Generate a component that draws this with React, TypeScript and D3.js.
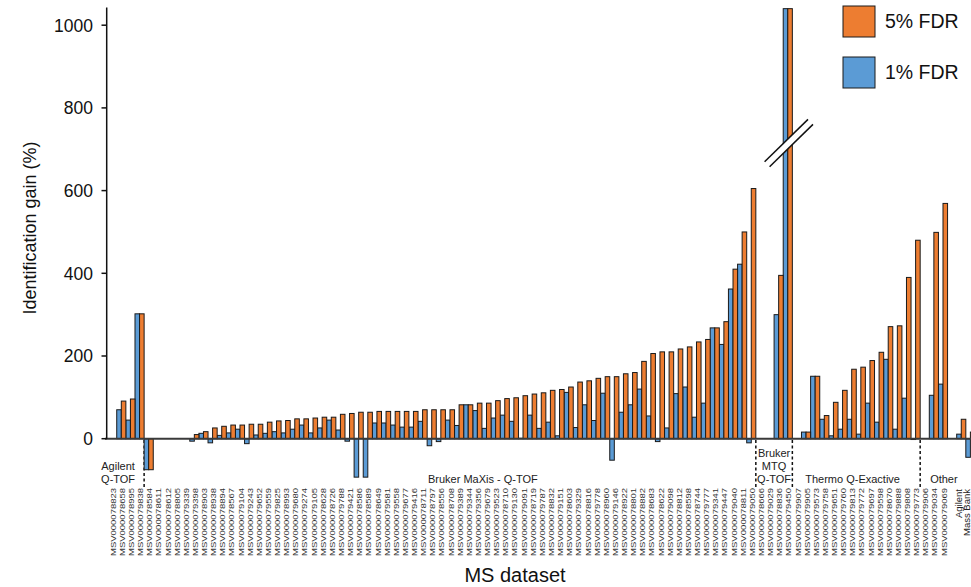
import React from 'react'
import * as d3 from 'd3'

// dataset ids, in plot order (slots)
const datasets = [
  'MSV000078823', 'MSV000078658', 'MSV000078995', 'MSV000079838',
  'MSV000078584', 'MSV000078611', 'MSV000078612', 'MSV000078805', 'MSV000079339', 'MSV000079398',
  'MSV000078903', 'MSV000078938', 'MSV000078894', 'MSV000078567', 'MSV000079104', 'MSV000079243',
  'MSV000079652', 'MSV000079559', 'MSV000079825', 'MSV000078993', 'MSV000079680', 'MSV000079274',
  'MSV000079105', 'MSV000078628', 'MSV000078726', 'MSV000079788', 'MSV000079421', 'MSV000078586',
  'MSV000078589', 'MSV000078649', 'MSV000079581', 'MSV000079558', 'MSV000079677', 'MSV000079416',
  'MSV000078711', 'MSV000078797', 'MSV000078556', 'MSV000078708', 'MSV000079389', 'MSV000079344',
  'MSV000079356', 'MSV000079679', 'MSV000079523', 'MSV000078710', 'MSV000079130', 'MSV000079091',
  'MSV000078719', 'MSV000079787', 'MSV000078832', 'MSV000079151', 'MSV000078603', 'MSV000079329',
  'MSV000078816', 'MSV000079778', 'MSV000078960', 'MSV000079146', 'MSV000078922', 'MSV000078801',
  'MSV000078882', 'MSV000078683', 'MSV000078622', 'MSV000079098', 'MSV000078812', 'MSV000078598',
  'MSV000078744', 'MSV000079777', 'MSV000079341', 'MSV000079447', 'MSV000079040', 'MSV000078811',
  'MSV000079050',
  'MSV000078666', 'MSV000079029', 'MSV000078836', 'MSV000079450',
  'MSV000079907', 'MSV000079905', 'MSV000079573', 'MSV000079758', 'MSV000079651', 'MSV000079760',
  'MSV000079813', 'MSV000079772', 'MSV000079697', 'MSV000079598', 'MSV000078670', 'MSV000079888',
  'MSV000079808', 'MSV000079773',
  'MSV000079906', 'MSV000079034', 'MSV000079069',
  '', '', '',
]

// identification gain (%) at 1% FDR, null = no bar
const fdr1 = [
  null, 70, 45, 302,
  -75, null, null, null, null, -6,
  13, -10, 8, 14, 23, -12,
  9, 13, 17, 14, 23, 33,
  14, 26, 45, 21, -6, -93,
  -93, 38, 38, 33, 28, 28,
  42, -17, -7, 45, 32, 82,
  68, 25, 50, 57, 42, 1,
  57, 25, 40, 7, 112, 27,
  82, 44, 110, -52, 64, 82,
  120, 55, -7, 26, 109, 125,
  52, 86, 268, 228, 362, 422,
  -10,
  null, null, 300, 1040,
  null, 16, 151, 47, 7, 23,
  47, 11, 86, 40, 192, 23,
  98, -2,
  null, 105, 132,
  null, 11, -45,
]

// identification gain (%) at 5% FDR
const fdr5 = [
  null, 91, 96, 302,
  -75, null, null, null, null, 10,
  17, 26, 30, 33, 33, 35,
  35, 40, 43, 44, 48, 48,
  50, 52, 52, 59, 61, 64,
  64, 66, 66, 66, 66, 66,
  70, 70, 70, 70, 82, 82,
  86, 86, 92, 97, 99, 104,
  108, 111, 117, 119, 125, 137,
  140, 146, 150, 150, 157, 160,
  187, 206, 210, 210, 217, 222,
  234, 240, 268, 283, 410, 500,
  605,
  null, null, 395, 1040,
  null, 16, 151, 56, 88, 117,
  168, 173, 189, 209, 271, 273,
  390, 480,
  null, 499, 569,
  null, 47, 16,
]

const groups = [
  { lines: ['Agilent', 'Q-TOF'], first: 0, last: 3 },
  { lines: ['Bruker MaXis - Q-TOF'], first: 4, last: 70 },
  { lines: ['Bruker', 'MTQ', 'Q-TOF'], first: 71, last: 74 },
  { lines: ['Thermo Q-Exactive'], first: 75, last: 88 },
  { lines: ['Other'], first: 89, last: 91 },
]
const massBank = ['Agilent', 'Mass Bank']

const yTicks = [0, 200, 400, 600, 800, 1000]
const series = [
  { name: '5% FDR', color: '#ED7D31' },
  { name: '1% FDR', color: '#5B9BD5' },
]

// where the group captions sit (slot units)
const captionAt = [1.15, 41.1, 73.0, 81.6, 91.6]

const W = 971
const H = 587
const FONT = '"Liberation Sans", Arial, Helvetica, sans-serif'

export default function App() {
  const x = d3.scaleBand<number>()
    .domain(d3.range(datasets.length))
    .range([107.6, 107.6 + 9.13 * datasets.length])
    .padding(0)
  const bw = x.bandwidth()
  const y = d3.scaleLinear().domain([0, 1000]).range([438.7, 25.2])
  const y0 = y(0)
  const slotX = (s: number) => x.range()[0] + s * x.step()

  const bar = (v: number | null, i: number, k: number, color: string) => {
    if (v === null) return null
    const yv = y(v)
    return (
      <rect key={`${k}-${i}`} x={x(i)! + k * bw / 2} width={bw / 2}
        y={Math.min(yv, y0)} height={Math.abs(yv - y0)}
        fill={color} stroke="#1a1a1a" strokeWidth={1} />
    )
  }

  // axis break on the MTQ bars
  const bi = 74
  const bcx = x(bi)! + bw / 2 + 1
  const bcy = y(715)
  const dx = 21.7, dy = 21.2, off = 2.5
  const l1 = [[bcx - dx - off, bcy + dy - off], [bcx + dx - off, bcy - dy - off]]
  const l2 = [[bcx - dx + off, bcy + dy + off], [bcx + dx + off, bcy - dy + off]]

  const separators = groups.slice(1).map(g => slotX(g.first))

  return (
    <div style={{ position: 'absolute', left: 0, top: 0 }}>
      <svg width={W} height={H} style={{ display: 'block', background: '#fff' }} fontFamily={FONT}>
        {/* group separators */}
        {separators.map((sx, i) => (
          <line key={i} x1={sx} x2={sx} y1={440} y2={487} stroke="#111" strokeWidth={1.5} strokeDasharray="3,2.5" />
        ))}

        {/* bars */}
        {fdr1.map((v, i) => bar(v, i, 0, series[1].color))}
        {fdr5.map((v, i) => bar(v, i, 1, series[0].color))}

        {/* break */}
        <polygon points={[l1[0], l1[1], l2[1], l2[0]].map(p => p.join(',')).join(' ')} fill="#fff" />
        <line x1={l1[0][0]} y1={l1[0][1]} x2={l1[1][0]} y2={l1[1][1]} stroke="#111" strokeWidth={1.5} />
        <line x1={l2[0][0]} y1={l2[0][1]} x2={l2[1][0]} y2={l2[1][1]} stroke="#111" strokeWidth={1.5} />

        {/* zero line */}
        <line x1={105} x2={W} y1={y0} y2={y0} stroke="#3a3a3a" strokeWidth={2} />

        {/* y axis */}
        <line x1={106.7} x2={106.7} y1={y0} y2={y(1043)} stroke="#111" strokeWidth={1.5} />
        {yTicks.map(t => (
          <g key={t}>
            <line x1={101.5} x2={106.7} y1={y(t)} y2={y(t)} stroke="#111" strokeWidth={1.5} />
            <text x={93} y={y(t)} dy="0.36em" textAnchor="end" fontSize={17.5} fill="#111">{t}</text>
          </g>
        ))}
        <text transform={`translate(36,228) rotate(-90)`} textAnchor="middle" fontSize={18} fill="#111">
          Identification gain (%)
        </text>

        {/* dataset labels */}
        {datasets.map((d, i) => d ? (
          <text key={d} transform={`translate(${x(i)! + bw / 2 + 3.6},488) rotate(-90)`}
            textAnchor="end" fontSize={8} fill="#333" textLength={68} lengthAdjust="spacingAndGlyphs">{d}</text>
        ) : null)}

        {/* group captions */}
        {groups.map((g, gi) => {
          const cx = slotX(captionAt[gi])
          return (
            <text key={gi} x={cx} textAnchor="middle" fontSize={11} fill="#222">
              {g.lines.map((ln, li) => (
                <tspan key={li} x={cx} y={482.7 - (g.lines.length - 1 - li) * 12.8}>{ln}</tspan>
              ))}
            </text>
          )
        })}
        {massBank.map((ln, li) => (
          <text key={ln} transform={`translate(${961.5 + li * 8.5},489) rotate(-90)`} textAnchor="end"
            fontSize={9.5} fill="#222">{ln}</text>
        ))}

        {/* legend */}
        {series.map((s, i) => (
          <g key={s.name}>
            <rect x={843} y={6 + i * 51} width={32} height={31} fill={s.color} stroke="#1a1a1a" strokeWidth={1} />
            <text x={885} y={28.3 + i * 51} fontSize={19.5} fill="#111">{s.name}</text>
          </g>
        ))}

        <text x={515} y={582} textAnchor="middle" fontSize={20} fill="#111">MS dataset</text>
      </svg>
    </div>
  )
}
